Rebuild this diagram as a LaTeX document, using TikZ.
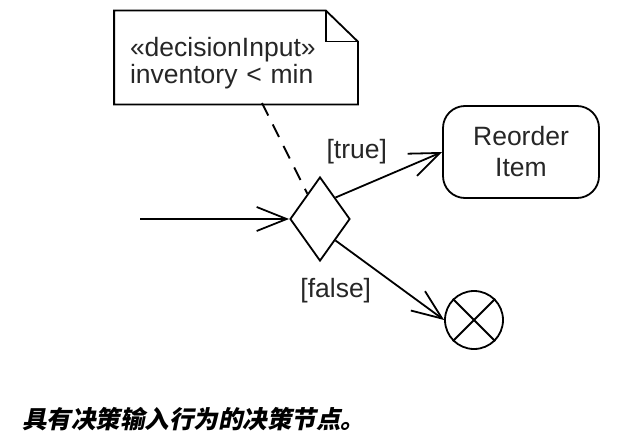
\documentclass[tikz,border=0pt]{standalone}
\usepackage{fontspec}
\setmainfont{Liberation Sans}
\newfontfamily\cjk[FakeSlant=0.2]{Noto Sans CJK SC}
\usetikzlibrary{shapes.geometric, arrows.meta}

\begin{document}
\begin{tikzpicture}[x=1pt, y=-1pt, line width=1.8pt, >={Straight Barb[length=30pt, width=24pt]},
		every node/.style={font=\fontsize{26.5}{27}\selectfont, text=black!85},
		notebox/.style={rectangle, inner xsep=15pt, inner ysep=0pt, text width=212pt, minimum height=92pt, align=left},
		actbox/.style={rectangle, rounded corners=22pt, draw, minimum width=156pt, minimum height=92pt, align=center},
		decbox/.style={diamond, draw, fill=white, inner sep=0pt, minimum width=60pt, minimum height=84pt},
		finbox/.style={circle, draw, inner sep=0pt, minimum size=58pt}]
			\useasboundingbox (0,0) rectangle (636,444);
			
			% Note
			\node[notebox] (note) at (236,57.5) {\rule{0pt}{30pt}«decisionInput»\\inventory < min};
			\draw (note.south west) -- (note.north west) -- ([xshift=-32pt]note.north east) -- ([yshift=-31pt]note.north east) -- (note.south east) -- cycle;
			\draw ([xshift=-32pt]note.north east) |- ([yshift=-31pt]note.north east);
			\coordinate (notept) at (262,103);
			
			% Nodes
			\node[decbox] (dec) at (320,219) {};
			\node[actbox] (reorder) at (521,152) {Reorder\\[4pt]Item};
			\node[finbox] (fin) at (474,320) {};
			\draw (fin.north west) -- (fin.south east);
			\draw (fin.north east) -- (fin.south west);
			\coordinate (start) at (140,219);
			
			% Connections
			\draw[dashed, dash pattern=on 14pt off 10pt] (notept) -- (dec);
			\draw[->] (start) -- (dec.west);
			\draw[->] (dec.north east) -- node[above, pos=0.2, yshift=20pt] {[true]} (reorder.west);
			\draw[->] (dec.south east) -- node[below, pos=0.15, xshift=-16pt, yshift=-22pt] {[false]} (fin.west);
			
			% Caption
			\node[anchor=west, font=\cjk\bfseries\fontsize{24.5}{26}\selectfont, text=black] (caption) at (18,419) {具有决策输入行为的决策节点。};
		\end{tikzpicture}
\end{document}
